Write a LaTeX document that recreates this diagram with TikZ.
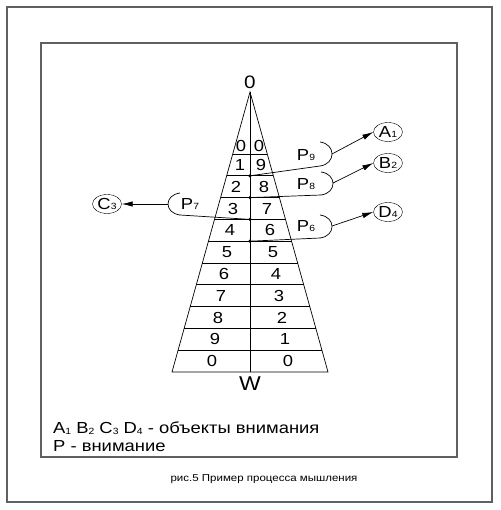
\documentclass[tikz,border=0pt]{standalone}
\usepackage{fontspec}
\setmainfont[FakeStretch=1.15]{Liberation Sans}
\usetikzlibrary{arrows.meta,shapes.geometric,calc}
\newcommand{\idx}[1]{\raisebox{-0.5pt}{\fontsize{9}{9}\selectfont#1}}

\begin{document}
\begin{tikzpicture}[x=1pt,y=-1pt,
  frame/.style={draw=gray!75!black,line width=1.2pt},
  digit/.style={font=\fontsize{16}{16}\selectfont,inner sep=0pt},
  obj/.style={draw,ellipse,minimum width=29pt,minimum height=19pt,
              inner sep=0pt,font=\fontsize{16}{16}\selectfont},
  plabel/.style={font=\fontsize{16}{16}\selectfont,inner sep=0pt},
  arr/.style={-{Latex[length=11pt,width=5.5pt]},line width=0.7pt},
  link/.style={line width=0.7pt}
]
\useasboundingbox (0,0) rectangle (500,510);
\draw[frame] (7,7) rectangle (492,502);
\draw[frame] (41,43) rectangle (457,457);

% cone
\coordinate (apex) at (250,92);
\coordinate (bl) at (172,372);
\coordinate (br) at (328,372);
\coordinate (bm) at (250,372);
\draw[link] (apex) -- (bl) -- (br) -- cycle;
\draw[link] (apex) -- (bm);
\foreach \t in {0.2214,0.2993,0.3771,0.4550,0.5329,0.6107,0.6886,0.7664,0.8443,0.9221}
  \draw[link] ($(apex)!\t!(bl)$) -- ($(apex)!\t!(br)$);
\node[digit,font=\fontsize{18}{18}\selectfont] (top) at (250,82) {0};
\node[digit,font=\fontsize{20}{20}\selectfont] (bottom) at (250,384) {W};

% digits
\node[digit] (l0) at (241,146) {0};   \node[digit] (r0) at (259,146) {0};
\node[digit] (l1) at (240,165) {1};   \node[digit] (r1) at (261,165) {9};
\node[digit] (l2) at (236,187) {2};   \node[digit] (r2) at (264,187) {8};
\node[digit] (l3) at (233,209) {3};   \node[digit] (r3) at (267,209) {7};
\node[digit] (l4) at (230,230) {4};   \node[digit] (r4) at (270,230) {6};
\node[digit] (l5) at (227,252) {5};   \node[digit] (r5) at (273,252) {5};
\node[digit] (l6) at (224,274) {6};   \node[digit] (r6) at (276,274) {4};
\node[digit] (l7) at (221,296) {7};   \node[digit] (r7) at (279,296) {3};
\node[digit] (l8) at (218,318) {8};   \node[digit] (r8) at (282,318) {2};
\node[digit] (l9) at (215,339) {9};   \node[digit] (r9) at (285,339) {1};
\node[digit] (l10) at (212,361) {0};  \node[digit] (r10) at (288,361) {0};

% attention points
\coordinate (d9) at (250,175.8);
\coordinate (d8) at (250,197.6);
\coordinate (d7) at (250,219.4);
\coordinate (d6) at (250,241.2);
\foreach \d in {d9,d8,d7,d6} \fill (\d) circle (1.8pt);

% objects
\node[obj] (a1) at (388,132) {A\idx{1}};
\node[obj] (b2) at (388,163) {B\idx{2}};
\node[obj] (d4) at (388,212) {D\idx{4}};
\node[obj] (c3) at (107,204) {C\idx{3}};

% P9
\coordinate (p9top) at (320,142);
\coordinate (p9bot) at (320,166);
\coordinate (p9tip) at (332,154);
\draw[link] (p9top) .. controls (336,144) and (336,164) .. (p9bot);
\draw[link] (d9) -- (p9bot);
\node[plabel] (p9) at (306,155) {P\idx{9}};
\draw[arr] (p9tip) -- (a1.west);
% P8
\coordinate (p8top) at (321,172);
\coordinate (p8bot) at (321,195);
\coordinate (p8tip) at (333,183);
\draw[link] (p8top) .. controls (337,174) and (337,193) .. (p8bot);
\draw[link] (d8) -- (p8bot);
\node[plabel] (p8) at (306,184) {P\idx{8}};
\draw[arr] (p8tip) -- (b2.west);
% P6
\coordinate (p6top) at (320,215);
\coordinate (p6bot) at (320,238);
\coordinate (p6tip) at (332,226);
\draw[link] (p6top) .. controls (336,217) and (336,236) .. (p6bot);
\draw[link] (d6) -- (p6bot);
\node[plabel] (p6) at (306,226) {P\idx{6}};
\draw[arr] (p6tip) -- (d4.west);
% P7
\coordinate (p7top) at (180,193);
\coordinate (p7bot) at (180,215);
\coordinate (p7tip) at (168,204);
\draw[link] (p7top) .. controls (164,195) and (164,213) .. (p7bot);
\draw[link] (d7) -- (p7bot);
\node[plabel] (p7) at (190,204) {P\idx{7}};
\draw[arr] (p7tip) -- (c3.east);

% legend
\node[anchor=west,inner sep=0pt,font=\fontsize{16}{16}\selectfont] (legend1) at (53,428)
  {A\idx{1} B\idx{2} C\idx{3} D\idx{4} - объекты внимания};
\node[anchor=west,inner sep=0pt,font=\fontsize{16}{16}\selectfont] (legend2) at (53,446)
  {P - внимание};
\node[inner sep=0pt,font=\fontsize{10}{10}\selectfont] (caption) at (264,479)
  {рис.5 Пример процесса мышления};
\end{tikzpicture}
\end{document}
